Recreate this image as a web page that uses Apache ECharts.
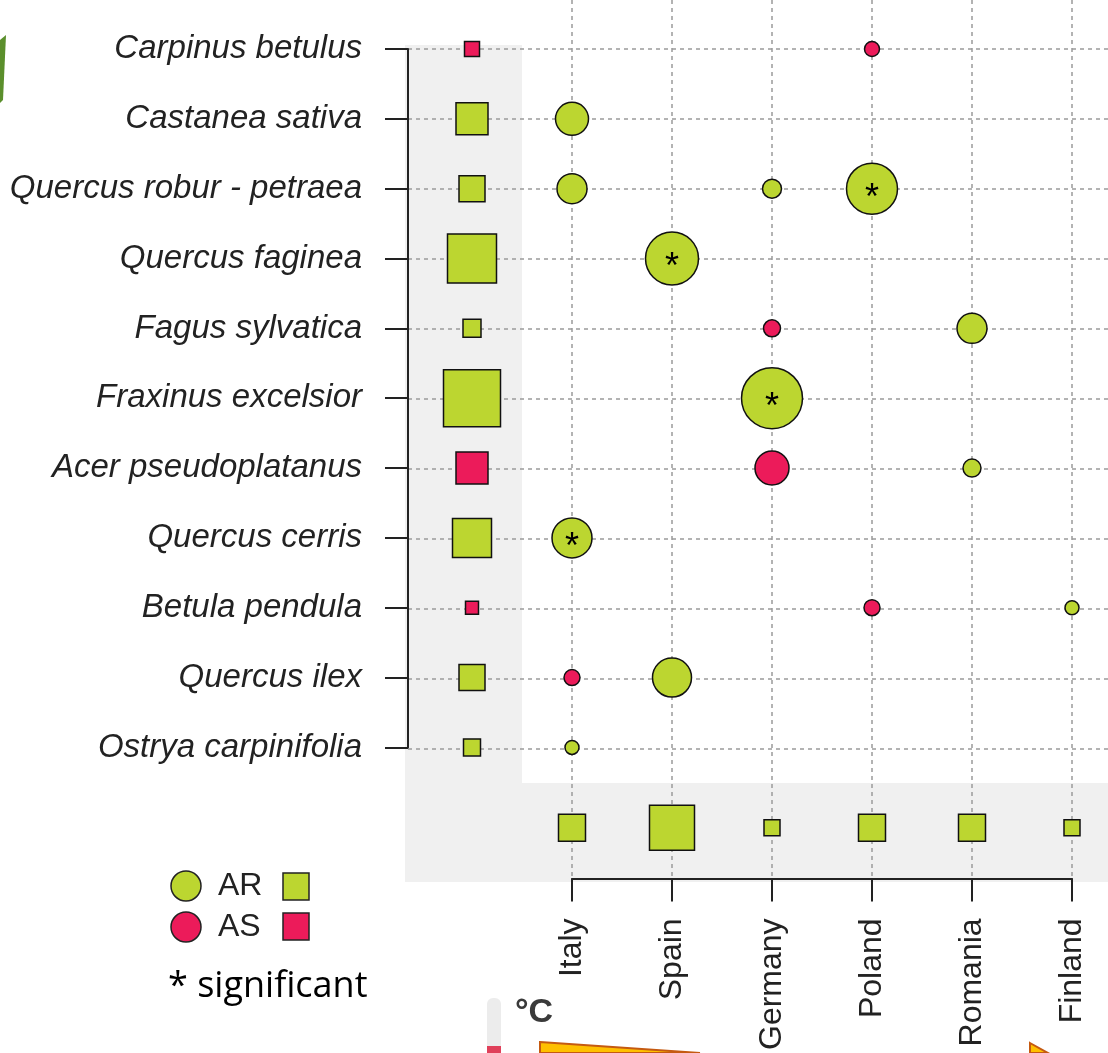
<!DOCTYPE html>
<html>
<head>
<meta charset="utf-8">
<script src="https://cdn.jsdelivr.net/npm/echarts@6/dist/echarts.min.js"></script>
<style>
  html, body { margin: 0; padding: 0; background: #fff; }
  #chart { width: 1108px; height: 1053px; }
</style>
</head>
<body>
<div id="chart"></div>
<script>
var species = ['Carpinus betulus', 'Castanea sativa', 'Quercus robur - petraea', 'Quercus faginea',
  'Fagus sylvatica', 'Fraxinus excelsior', 'Acer pseudoplatanus', 'Quercus cerris',
  'Betula pendula', 'Quercus ilex', 'Ostrya carpinifolia'];
var countries = ['Italy', 'Spain', 'Germany', 'Poland', 'Romania', 'Finland'];

// [species index, country index, effect, significant]
var arPoints = [
  [1, 0, 0.33, 0], [2, 0, 0.30, 0], [2, 2, 0.19, 0], [2, 3, 0.51, 1],
  [3, 1, 0.53, 1], [4, 4, 0.30, 0], [5, 2, 0.61, 1], [6, 4, 0.18, 0],
  [7, 0, 0.40, 1], [8, 5, 0.14, 0], [9, 1, 0.39, 0], [10, 0, 0.14, 0]
];
var asPoints = [
  [0, 3, 0.15, 0], [4, 2, 0.17, 0], [6, 2, 0.34, 0], [8, 3, 0.16, 0], [9, 0, 0.16, 0]
];

// totals per species (left column) and per country (bottom row)
var speciesTotals = [0.15, 0.32, 0.26, 0.49, 0.18, 0.57, 0.32, 0.39, 0.13, 0.26, 0.17];
var speciesTotalType = ['AS', 'AR', 'AR', 'AR', 'AR', 'AR', 'AS', 'AR', 'AS', 'AR', 'AR'];
var countryTotals = [0.27, 0.45, 0.16, 0.27, 0.27, 0.16];

var GREEN = '#bcd630';
var RED = '#ec1b5a';
var SUMMARY_COL = -1;    // column left of Italy
var SUMMARY_ROW = 11.15; // row under Ostrya
var sizeOf = function (v) { return v * 100; };

function pointData(list) {
  return list.map(function (p) {
    return {
      value: [p[1], p[0], p[2]],
      label: { show: !!p[3] }
    };
  });
}

var markStyle = { borderColor: '#111', borderWidth: 1.5, opacity: 1 };
var starLabel = {
  show: false, formatter: '*', position: 'inside', color: '#000',
  fontSize: 36, fontFamily: 'Liberation Sans', offset: [0, 10]
};

var chart = echarts.init(document.getElementById('chart'));

var hidden = { show: false };
var dotted = { color: '#9a9a9a', width: 1.5, type: [4, 4] };

option = {
  backgroundColor: '#fff',
  animation: false,
  grid: [
    // main plot
    { left: 572, right: 36, top: 49, bottom: 304, show: false },
    // horizontal guide lines
    { left: 408, right: 0, top: 49, bottom: 304, show: false },
    // vertical guide lines
    { left: 572, right: 36, top: 0, bottom: 173, show: false },
    // grey panels
    { left: 405, top: 45, width: 117, height: 837, show: true, backgroundColor: '#f0f0f0', borderWidth: 0 },
    { left: 405, top: 783, right: 0, height: 99, show: true, backgroundColor: '#f0f0f0', borderWidth: 0 }
  ],
  xAxis: [
    {
      gridIndex: 0, type: 'value', min: 0, max: 5, interval: 1, offset: 131, position: 'bottom',
      axisLine: { show: true, onZero: false, lineStyle: { color: '#222', width: 2 } },
      axisTick: { show: true, length: 23, lineStyle: { color: '#222', width: 2 } },
      axisLabel: {
        rotate: 90, margin: 40, color: '#222', fontSize: 32, fontFamily: 'Liberation Sans',
        formatter: function (v) { return countries[v] || ''; }
      },
      splitLine: { show: false }
    },
    { gridIndex: 1, type: 'value', min: 0, max: 1, show: false },
    {
      gridIndex: 2, type: 'value', min: 0, max: 5, interval: 1,
      axisLine: hidden, axisTick: hidden, axisLabel: hidden,
      splitLine: { show: true, lineStyle: dotted }
    },
    { gridIndex: 3, type: 'value', show: false },
    { gridIndex: 4, type: 'value', show: false }
  ],
  yAxis: [
    {
      gridIndex: 0, type: 'value', min: 0, max: 10, interval: 1, inverse: true, offset: 164, position: 'left',
      axisLine: { show: true, onZero: false, lineStyle: { color: '#222', width: 2 } },
      axisTick: { show: true, length: 23, lineStyle: { color: '#222', width: 2 } },
      axisLabel: {
        margin: 46, color: '#222', fontSize: 33, fontStyle: 'italic', fontFamily: 'Liberation Sans',
        formatter: function (v) { return species[v] || ''; }
      },
      splitLine: { show: false }
    },
    {
      gridIndex: 1, type: 'value', min: 0, max: 10, interval: 1, inverse: true,
      axisLine: hidden, axisTick: hidden, axisLabel: hidden,
      splitLine: { show: true, lineStyle: dotted }
    },
    { gridIndex: 2, type: 'value', min: 0, max: 1, show: false },
    { gridIndex: 3, type: 'value', show: false },
    { gridIndex: 4, type: 'value', show: false }
  ],
  series: [
    {
      name: 'AR', type: 'scatter', clip: false, z: 5,
      symbol: 'circle',
      symbolSize: function (d) { return sizeOf(d[2]); },
      itemStyle: Object.assign({ color: GREEN }, markStyle),
      label: starLabel,
      data: pointData(arPoints)
    },
    {
      name: 'AS', type: 'scatter', clip: false, z: 5,
      symbol: 'circle',
      symbolSize: function (d) { return sizeOf(d[2]); },
      itemStyle: Object.assign({ color: RED }, markStyle),
      label: starLabel,
      data: pointData(asPoints)
    },
    {
      name: 'species total', type: 'scatter', clip: false, z: 5,
      symbol: 'rect',
      symbolSize: function (d) { return sizeOf(d[2]); },
      itemStyle: markStyle,
      data: speciesTotals.map(function (v, i) {
        return {
          value: [SUMMARY_COL, i, v],
          itemStyle: { color: speciesTotalType[i] === 'AS' ? RED : GREEN }
        };
      })
    },
    {
      name: 'country total', type: 'scatter', clip: false, z: 5,
      symbol: 'rect',
      symbolSize: function (d) { return sizeOf(d[2]); },
      itemStyle: Object.assign({ color: GREEN }, markStyle),
      data: countryTotals.map(function (v, i) { return [i, SUMMARY_ROW, v]; })
    }
  ],
  graphic: [
    // legend
    { type: 'circle', shape: { cx: 186, cy: 886, r: 15 }, style: { fill: GREEN, stroke: '#222', lineWidth: 1.5 } },
    { type: 'text', left: 218, top: 870, style: { text: 'AR', fontSize: 32, fontFamily: 'Liberation Sans', fill: '#222' } },
    { type: 'rect', shape: { x: 283, y: 873, width: 26, height: 27 }, style: { fill: GREEN, stroke: '#222', lineWidth: 1.5 } },
    { type: 'circle', shape: { cx: 186, cy: 927, r: 15 }, style: { fill: RED, stroke: '#222', lineWidth: 1.5 } },
    { type: 'text', left: 218, top: 911, style: { text: 'AS', fontSize: 32, fontFamily: 'Liberation Sans', fill: '#222' } },
    { type: 'rect', shape: { x: 283, y: 913, width: 26, height: 27 }, style: { fill: RED, stroke: '#222', lineWidth: 1.5 } },
    { type: 'text', left: 168, top: 969, style: { text: '* significant', fontSize: 36, fontFamily: 'Open Sans', fill: '#000' } },
    // slide leftovers
    { type: 'polygon', shape: { points: [[0, 40], [6, 35], [3, 100], [0, 103]] }, style: { fill: '#5b8f2c' } },
    { type: 'rect', shape: { x: 487, y: 998, width: 14, height: 60, r: 6 }, style: { fill: '#ececec' } },
    { type: 'rect', shape: { x: 487, y: 1046, width: 14, height: 10 }, style: { fill: '#e0405a' } },
    { type: 'text', left: 515, top: 996, style: { text: '°C', fontSize: 34, fontWeight: 'bold', fontFamily: 'Liberation Sans', fill: '#3a3a3a' } },
    { type: 'polygon', shape: { points: [[540, 1042], [700, 1053], [540, 1053]] }, style: { fill: '#ffc000', stroke: '#c55a11', lineWidth: 2 } },
    { type: 'polygon', shape: { points: [[1030, 1043], [1048, 1053], [1030, 1053]] }, style: { fill: '#ffc000', stroke: '#c55a11', lineWidth: 2 } }
  ]
};

chart.setOption(option, true);
</script>
</body>
</html>
